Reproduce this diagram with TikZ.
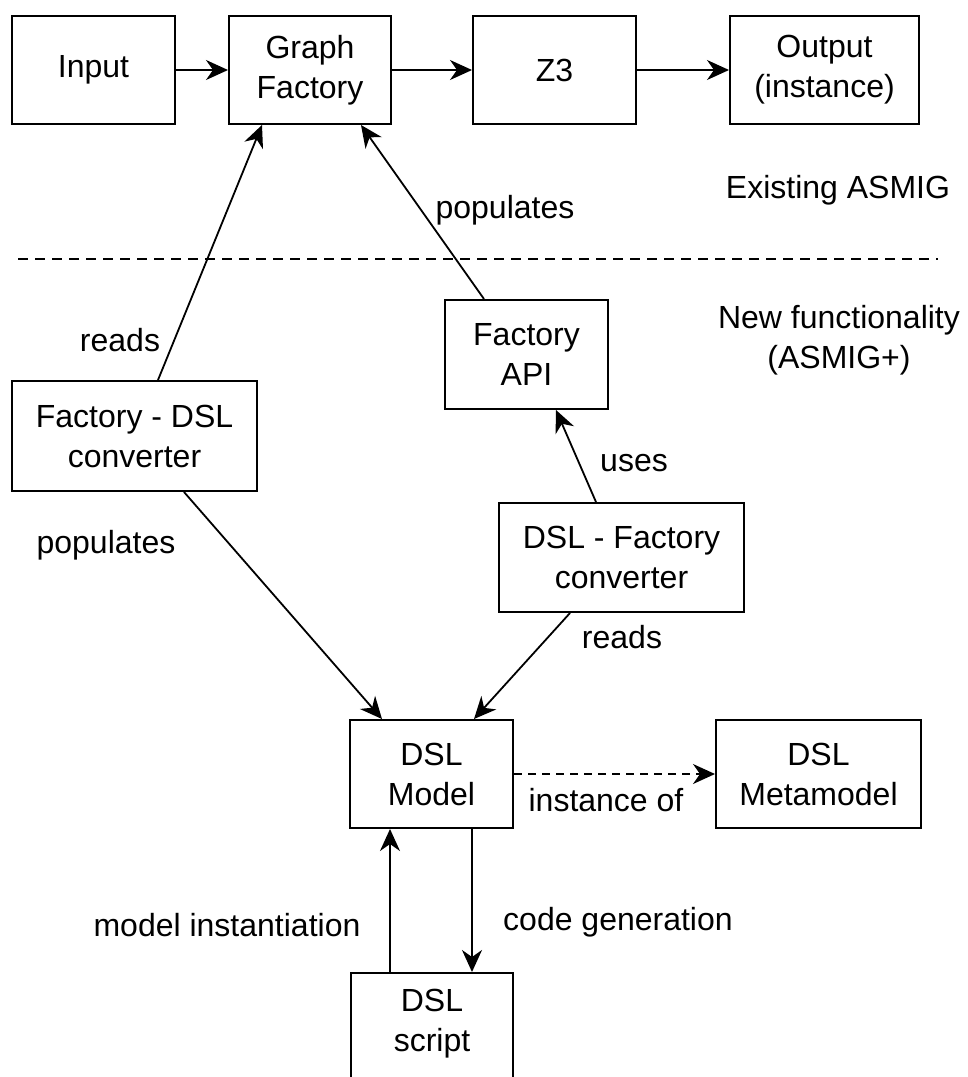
\documentclass[tikz,border=0pt]{standalone}
\usepackage{fontspec}
\setmainfont{Liberation Sans}
\usetikzlibrary{arrows.meta}
\begin{document}
\begin{tikzpicture}[x=0.5pt,y=-0.5pt,
  txt/.style={font=\fontsize{16}{20}\selectfont, align=center},
  box/.style={txt, draw, line width=1pt, inner sep=0pt},
  wh/.style 2 args={minimum width=#1*0.5pt, minimum height=#2*0.5pt},
  lbl/.style={txt, inner sep=0pt},
  conn/.style={line width=0.9pt, -{Stealth[length=11pt,width=10pt,inset=3.5pt]}},
  sep/.style={line width=1pt, dash pattern=on 5pt off 3.5pt},
]
\useasboundingbox (0,0) rectangle (968,1077);

% existing pipeline
\node[box, wh={163}{108}] (input) at (93.5,70)  {Input};
\node[box, wh={162}{108}] (gf)    at (310,70)   {Graph\\Factory};
\node[box, wh={163}{108}] (z3)    at (554.5,70) {Z3};
\node[box, wh={189}{108}] (out)   at (824.5,70) {Output\\(instance)};

% new components
\node[box, wh={163}{109}] (api)   at (526.5,354.5) {Factory\\API};
\node[box, wh={245}{110}] (fdsl)  at (134.5,436)   {Factory - DSL\\converter};
\node[box, wh={245}{109}] (dslf)  at (621.5,557.5) {DSL - Factory\\converter};
\node[box, wh={163}{108}] (model) at (431.5,774)   {DSL\\Model};
\node[box, wh={205}{108}] (meta)  at (818.5,774)   {DSL\\Metamodel};
\node[box, wh={162}{216}, anchor=north] (script) at (432,972) {};
\node[lbl] (scripttxt) at (432,1024) {DSL\\script};

% separator between existing and new parts
\coordinate (sepL) at (18,259);
\coordinate (sepR) at (938,259);
\draw[sep] (sepL) -- (sepR);
\node[lbl] (existing) at (838,190) {Existing ASMIG};
\node[lbl] (newfunc)  at (839,340) {New functionality\\(ASMIG+)};

% top row flow
\draw[conn] (input.east) -- (gf.west);
\draw[conn] (gf.east) -- (z3.west);
\draw[conn] (z3.east) -- (out.west);

% attachment points on box borders
\coordinate (gfA)    at ([xshift=17pt]gf.south west);
\coordinate (gfB)    at ([xshift=66.5pt]gf.south west);
\coordinate (fdslT)  at ([xshift=73.5pt]fdsl.north west);
\coordinate (fdslB)  at ([xshift=86.5pt]fdsl.south west);
\coordinate (apiT)   at ([xshift=20pt]api.north west);
\coordinate (apiB)   at ([xshift=56pt]api.south west);
\coordinate (dslfT)  at ([xshift=49pt]dslf.north west);
\coordinate (dslfB)  at ([xshift=36pt]dslf.south west);
\coordinate (modelA) at ([xshift=16.5pt]model.north west);
\coordinate (modelB) at ([xshift=62.5pt]model.north west);
\coordinate (modelC) at ([xshift=20.5pt]model.south west);
\coordinate (modelD) at ([xshift=61.5pt]model.south west);
\coordinate (scrA)   at ([xshift=20pt]script.north west);
\coordinate (scrB)   at ([xshift=61pt]script.north west);

\draw[conn] (fdslT) -- (gfA);
\draw[conn] (apiT) -- (gfB);
\draw[conn] (dslfT) -- (apiB);
\draw[conn] (fdslB) -- (modelA);
\draw[conn] (dslfB) -- (modelB);
\draw[conn, dash pattern=on 4pt off 3pt] (model.east) -- (meta.west);
\draw[conn] (scrA) -- (modelC);
\draw[conn] (modelD) -- (scrB);

% connector labels
\node[lbl] (l1) at (120,340) {reads};
\node[lbl] (l2) at (505,210) {populates};
\node[lbl] (l3) at (634,463) {uses};
\node[lbl] (l4) at (106,545) {populates};
\node[lbl] (l5) at (622,637) {reads};
\node[lbl] (l6) at (606,800) {instance of};
\node[lbl] (l7) at (227,925) {model instantiation};
\node[lbl] (l8) at (618,922) {code generation};
\end{tikzpicture}
\end{document}
